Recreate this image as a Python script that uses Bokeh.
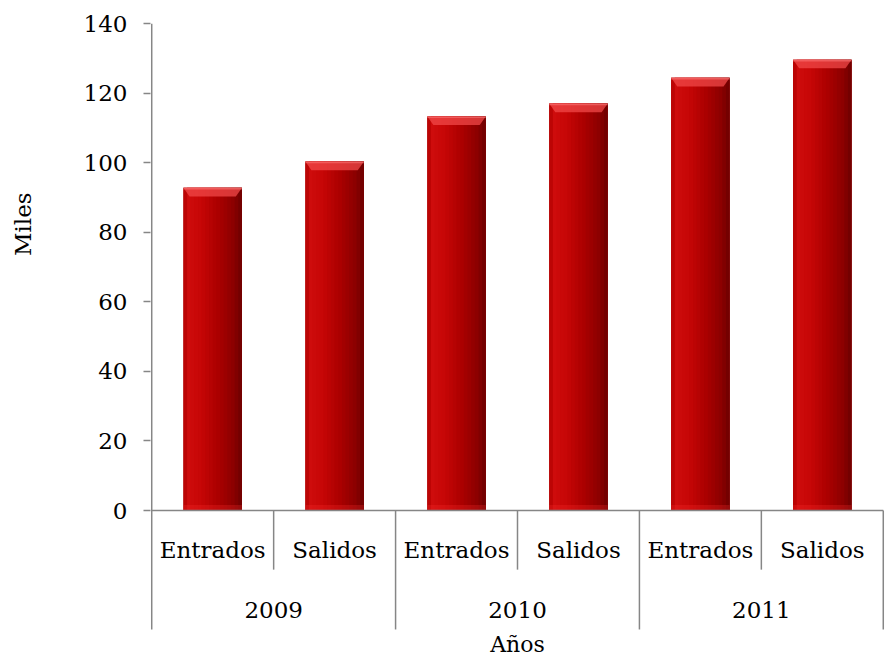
import numpy as np
from bokeh.plotting import figure
from bokeh.layouts import row
from bokeh.models import Range1d, FixedTicker
from bokeh.embed import file_html
from bokeh.resources import INLINE
from bokeh.core.properties import value

# ---- data ----
years = ["2009", "2010", "2011"]
kinds = ["Entrados", "Salidos"]
values = [92.8, 100.3, 113.3, 117.0, 124.4, 129.6]
y_ticks = [0, 20, 40, 60, 80, 100, 120, 140]
y_title = "Miles"
x_title = "Años"

FONT = "DejaVu Serif"
FS = "23px"
GREY = "#868686"

n = len(values)
centers = np.arange(n) + 0.5
bar_w = 0.48
H = 658
TOP = 23
y_max = 140
ppu = 487 / 140.0                      # pixels per unit of the reference
y_bottom = y_max - (H - TOP) / ppu     # frame reaches the bottom of the canvas
axis_bottom = -34.2                    # where the category table ends
inner_depth = -17

# ---- narrow figure holding the rotated y title ----
lf = figure(width=40, height=H, x_range=Range1d(0, 40), y_range=Range1d(0, H),
            output_backend="svg", toolbar_location=None, min_border=0,
            x_axis_location=None, y_axis_location=None)
lf.outline_line_color = None
lf.grid.visible = False
lf.text(x=[22], y=[H - 208], text=[y_title], angle=np.pi / 2, text_font=value(FONT),
        text_font_size=FS, text_align="center", text_baseline="middle", text_color="black")

# ---- main figure ----
p = figure(width=846, height=H, x_range=Range1d(-0.01, n + 0.01), y_range=Range1d(y_bottom, y_max),
           output_backend="svg", toolbar_location=None, x_axis_location=None,
           min_border_left=110, min_border_right=2, min_border_top=TOP, min_border_bottom=0)
p.outline_line_color = None
p.grid.visible = False

ax = p.yaxis[0]
ax.ticker = FixedTicker(ticks=y_ticks)
ax.major_tick_out = 7
ax.major_tick_in = 0
ax.minor_tick_line_color = None
ax.axis_line_color = None
ax.major_tick_line_color = GREY
ax.major_tick_line_width = 1.5
ax.major_label_standoff = 16
ax.major_label_text_font = FONT
ax.major_label_text_font_size = FS
ax.major_label_text_color = "black"

# ---- bars: overlapping vertical slices to imitate the shaded look ----
stops = [(0.0, (176, 0, 0)), (0.08, (206, 12, 12)), (0.3, (198, 6, 6)),
         (0.6, (170, 0, 0)), (0.85, (140, 0, 0)), (1.0, (110, 0, 0))]

def col_at(t):
    for (t0, c0), (t1, c1) in zip(stops[:-1], stops[1:]):
        if t0 <= t <= t1:
            f = (t - t0) / (t1 - t0)
            c = [int(round(a + (b - a) * f)) for a, b in zip(c0, c1)]
            return "#%02x%02x%02x" % tuple(c)
    return "#6e0000"

vals = np.array(values)
N = 16
sw = bar_w / N
p.vbar(x=centers, top=vals, bottom=0, width=bar_w, fill_color="#a00000", line_color=None)
for k in range(N):
    t = (k + 0.5) / N
    left = centers - bar_w / 2 + sw * k
    right = np.minimum(left + sw * 2, centers + bar_w / 2)
    p.quad(left=left, right=right, top=vals, bottom=0, fill_color=col_at(t), line_color=None)

# bottom light band
p.vbar(x=centers, top=1.6, bottom=0, width=bar_w, fill_color="#ff3030", fill_alpha=0.25, line_color=None)

# top bevel (trapezoid) highlight
bev_h = 2.5
bev_d = 0.05
xs_bev = [[c - bar_w / 2, c + bar_w / 2, c + bar_w / 2 - bev_d, c - bar_w / 2 + bev_d] for c in centers]
ys_bev = [[v, v, v - bev_h, v - bev_h] for v in vals]
p.patches(xs=xs_bev, ys=ys_bev, fill_color="#f04848", fill_alpha=0.75, line_color=None)
p.vbar(x=centers, top=vals, bottom=vals - 0.5, width=bar_w, fill_color="#ff8080", fill_alpha=0.5, line_color=None)

# ---- axis lines and category table drawn inside the frame ----
p.segment(x0=[0], x1=[0], y0=[axis_bottom], y1=[y_max], line_color=GREY, line_width=1.5)
p.segment(x0=[0], x1=[n], y0=[0], y1=[0], line_color=GREY, line_width=1.5)
inner = np.arange(1, n, 2)
outer = np.arange(2, n + 1, 2)
p.segment(x0=inner, x1=inner, y0=0, y1=inner_depth, line_color=GREY, line_width=1.5)
p.segment(x0=outer, x1=outer, y0=0, y1=axis_bottom, line_color=GREY, line_width=1.5)

kind_labels = [kinds[i % 2] for i in range(n)]
p.text(x=centers, y=-11.3, text=kind_labels, text_font=value(FONT), text_font_size=FS,
       text_align="center", text_baseline="middle", text_color="black")
year_x = [2 * i + 1 for i in range(len(years))]
p.text(x=year_x, y=-28.7, text=years, text_font=value(FONT), text_font_size=FS,
       text_align="center", text_baseline="middle", text_color="black")
p.text(x=[n / 2], y=[-38.6], text=[x_title], text_font=value(FONT), text_font_size="22px",
       text_align="center", text_baseline="middle", text_color="black")

open("out.html", "w").write(file_html(row(lf, p), INLINE))
